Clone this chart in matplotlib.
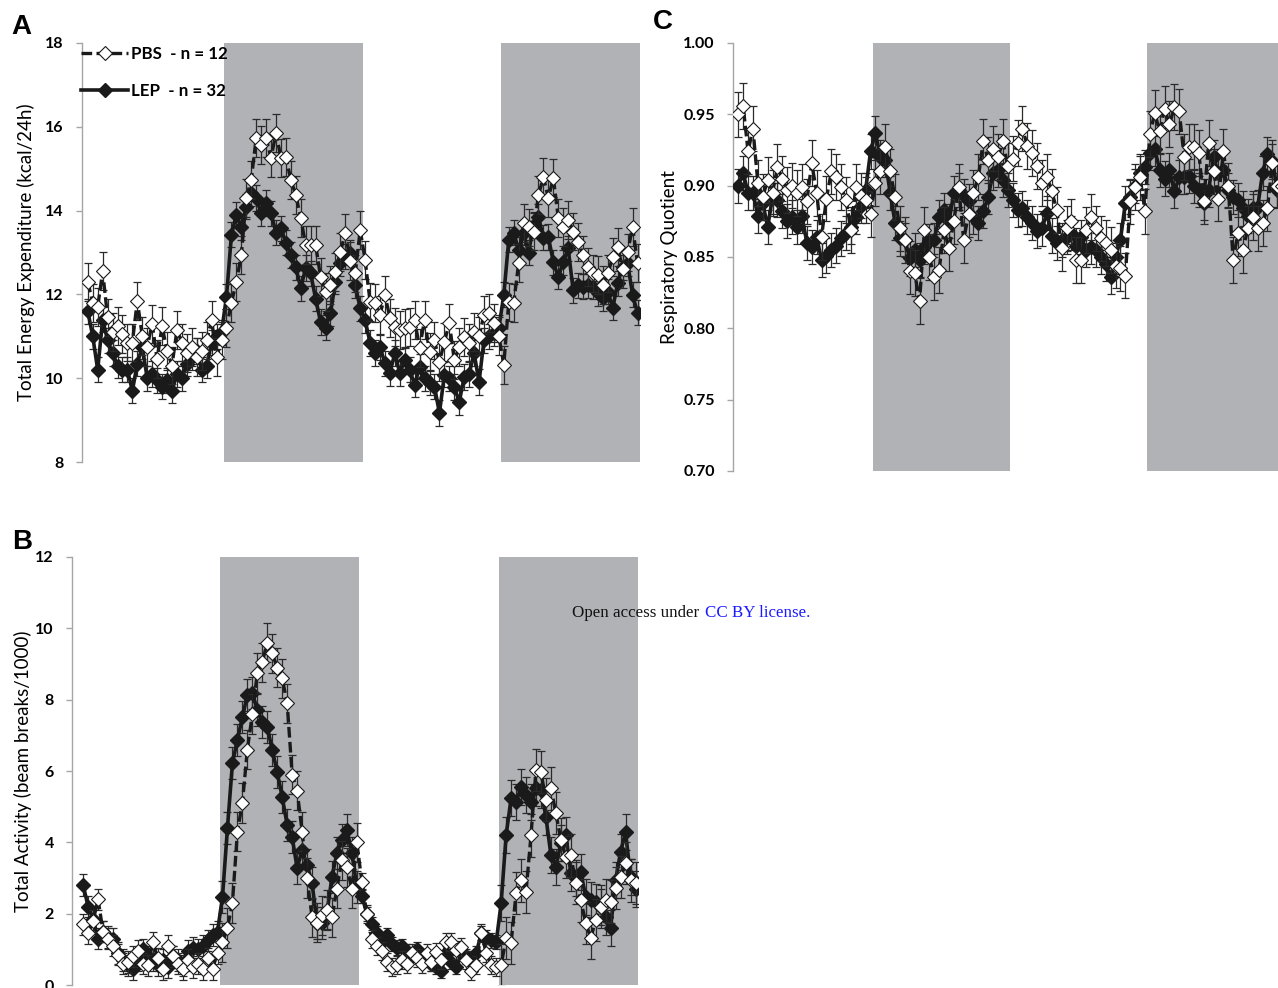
import numpy as np
import matplotlib
matplotlib.use("Agg")
import matplotlib.pyplot as plt
from matplotlib.lines import Line2D

# ---------------- data ----------------
# Panel A: Total energy expenditure (kcal/24h)
tee_lep = [11.6, 11.0, 10.2, 11.4, 10.9, 10.6, 10.3, 10.2, 10.2, 9.7, 10.35, 10.75, 10.0, 10.1,
           9.95, 9.8, 9.95, 9.7, 10.1, 10.0, 10.35, 10.5, 10.65, 10.2, 10.3, 10.85, 11.0, 11.1,
           11.94, 13.42, 13.9, 13.6, 14.09, 14.42, 14.3, 13.94, 14.18, 13.94, 13.47, 13.58, 13.23, 12.94,
           12.65, 12.15, 12.63, 12.5, 11.9, 11.34, 11.2, 11.55, 12.3, 12.75, 12.9, 12.99, 12.22, 11.67,
           11.39, 10.84, 10.6, 10.74, 10.36, 10.12, 10.6, 10.12, 10.43, 10.2, 9.84, 10.27, 10.0, 9.89,
           9.8, 9.17, 10.08, 10.0, 9.79, 9.43, 10.03, 10.1, 10.6, 9.91, 10.91, 11.0, 11.08, 11.2,
           11.99, 13.3, 13.47, 13.06, 13.47, 12.99, 13.66, 13.85, 13.35, 13.37, 12.77, 12.42, 12.77, 13.1,
           12.1, 12.22, 12.18, 12.22, 12.18, 12.03, 11.91, 12.06, 11.68, 12.27, 12.65, 12.75, 11.99, 11.56]
tee_pbs = [12.3, 11.8, 11.7, 12.55, 11.45, 11.1, 11.25, 11.05, 10.85, 10.85, 11.85, 11.0, 10.75, 11.3,
           10.45, 11.25, 10.65, 10.3, 11.15, 10.85, 10.6, 10.75, 10.5, 10.65, 10.9, 11.4, 10.5, 10.9,
           11.2, 11.8, 12.3, 12.94, 14.3, 14.73, 15.73, 15.57, 15.73, 15.26, 15.85, 15.26, 15.28, 14.73,
           14.37, 13.82, 13.18, 13.18, 13.18, 12.42, 12.06, 12.22, 12.53, 13.01, 13.47, 12.8, 12.5, 13.54,
           12.82, 11.82, 11.79, 11.51, 11.99, 11.44, 11.22, 11.15, 11.2, 11.22, 11.39, 10.72, 11.39, 10.63,
           10.9, 10.39, 10.86, 11.32, 10.43, 10.74, 10.98, 10.84, 11.1, 11.0, 11.51, 11.56, 11.32, 11.0,
           10.32, 11.82, 11.79, 12.75, 13.7, 13.6, 13.5, 14.37, 14.8, 14.3, 14.78, 13.82, 13.61, 13.78,
           13.5, 13.25, 12.94, 12.65, 12.5, 12.46, 12.22, 12.5, 12.89, 13.13, 12.6, 13.0, 13.61, 12.75]
tee_lep_sem = 0.3
tee_pbs_sem = 0.45

# Panel B: Total activity (beam breaks/1000)
act_lep = [2.8, 2.2, 1.85, 1.3, 1.5, 1.35, 1.3, 0.9, 0.7, 0.55, 0.45, 0.7, 1.0, 0.8,
           0.7, 0.55, 0.7, 0.5, 0.8, 0.7, 0.55, 0.95, 1.05, 1.0, 1.1, 1.25, 1.4, 1.5,
           2.47, 4.4, 6.22, 6.87, 7.51, 8.13, 8.19, 7.71, 7.37, 7.23, 6.59, 5.97, 5.27, 4.49,
           4.15, 3.28, 3.78, 3.36, 2.86, 1.74, 1.74, 2.02, 3.03, 3.7, 4.07, 4.35, 3.7, 2.75,
           2.5, 2.0, 1.7, 1.45, 1.2, 1.4, 1.15, 1.05, 1.1, 0.95, 0.85, 1.0, 0.8, 0.7,
           0.6, 0.5, 0.4, 0.9, 0.65, 0.5, 0.9, 0.8, 0.75, 0.9, 1.45, 1.35, 1.25, 1.2,
           2.3, 4.2, 5.24, 5.13, 5.55, 5.33, 5.13, 5.52, 5.47, 4.71, 3.64, 3.31, 3.98, 4.2,
           3.14, 3.0, 3.17, 2.47, 2.38, 2.33, 2.19, 1.9, 1.6, 2.94, 3.73, 4.29, 3.03, 2.7]
act_pbs = [1.7, 1.45, 1.8, 2.4, 1.5, 1.3, 1.1, 0.85, 0.6, 0.65, 0.8, 0.95, 0.6, 0.55,
           1.2, 0.75, 0.45, 1.1, 0.8, 0.6, 0.45, 0.7, 0.5, 0.6, 0.45, 0.75, 0.45, 0.9,
           1.2, 1.6, 2.3, 4.3, 5.1, 6.6, 7.6, 8.75, 9.05, 9.6, 9.3, 8.9, 8.6, 7.9,
           5.9, 5.45, 4.3, 3.0, 1.9, 1.75, 1.95, 2.1, 1.9, 2.7, 3.5, 3.3, 2.7, 4.0,
           2.9, 2.0, 1.3, 1.1, 0.95, 0.65, 0.5, 0.55, 0.7, 0.6, 0.9, 0.75, 0.6, 0.9,
           0.65, 0.93, 0.7, 1.2, 1.2, 0.98, 1.07, 0.7, 0.4, 0.56, 1.46, 0.9, 0.56, 0.5,
           0.56, 1.32, 1.18, 2.58, 2.94, 2.61, 4.2, 6.03, 5.97, 5.19, 5.52, 4.82, 4.07, 3.59,
           3.64, 2.86, 2.38, 1.74, 1.32, 1.82, 2.19, 2.38, 2.33, 2.72, 3.03, 3.42, 2.94, 2.86]
act_lep_sem = [0.3, 0.45, 0.2, 0.5]     # light, dark, light, dark
act_pbs_sem = [0.3, 0.55, 0.25, 0.6]

# Panel C: Respiratory quotient
rq_lep = [0.900, 0.909, 0.895, 0.895, 0.879, 0.888, 0.871, 0.892, 0.890, 0.882, 0.875, 0.878, 0.871, 0.879,
          0.860, 0.857, 0.864, 0.848, 0.851, 0.855, 0.858, 0.863, 0.867, 0.871, 0.878, 0.886, 0.897, 0.924,
          0.937, 0.920, 0.918, 0.895, 0.874, 0.863, 0.862, 0.849, 0.855, 0.848, 0.857, 0.861, 0.862, 0.878,
          0.883, 0.875, 0.895, 0.897, 0.893, 0.889, 0.878, 0.874, 0.882, 0.892, 0.909, 0.911, 0.904, 0.897,
          0.890, 0.883, 0.884, 0.878, 0.874, 0.868, 0.870, 0.881, 0.865, 0.860, 0.862, 0.864, 0.867, 0.858,
          0.864, 0.855, 0.857, 0.855, 0.850, 0.845, 0.836, 0.850, 0.862, 0.888, 0.892, 0.900, 0.909, 0.913,
          0.923, 0.926, 0.911, 0.905, 0.911, 0.896, 0.906, 0.906, 0.907, 0.900, 0.897, 0.888, 0.897, 0.920,
          0.909, 0.911, 0.897, 0.892, 0.890, 0.884, 0.879, 0.884, 0.885, 0.909, 0.922, 0.917, 0.897, 0.900]
rq_pbs = [0.950, 0.956, 0.924, 0.940, 0.902, 0.892, 0.904, 0.895, 0.913, 0.905, 0.897, 0.900, 0.895, 0.899,
          0.889, 0.916, 0.895, 0.864, 0.891, 0.910, 0.906, 0.899, 0.890, 0.869, 0.899, 0.893, 0.890, 0.880,
          0.902, 0.910, 0.927, 0.910, 0.892, 0.870, 0.862, 0.840, 0.839, 0.819, 0.869, 0.850, 0.836, 0.841,
          0.869, 0.856, 0.875, 0.899, 0.862, 0.880, 0.895, 0.906, 0.931, 0.918, 0.926, 0.920, 0.931, 0.914,
          0.919, 0.930, 0.940, 0.928, 0.923, 0.914, 0.902, 0.906, 0.896, 0.883, 0.856, 0.870, 0.875, 0.848,
          0.848, 0.869, 0.878, 0.870, 0.863, 0.860, 0.855, 0.844, 0.842, 0.837, 0.889, 0.899, 0.906, 0.882,
          0.936, 0.951, 0.938, 0.954, 0.943, 0.955, 0.952, 0.920, 0.927, 0.927, 0.923, 0.889, 0.930, 0.910,
          0.891, 0.924, 0.900, 0.848, 0.867, 0.855, 0.870, 0.878, 0.870, 0.874, 0.884, 0.916, 0.900, 0.900]
rq_lep_sem = 0.012
rq_pbs_sem = 0.016

points_per_phase = 28
dark_phases = [1, 3]
legend_labels = ["PBS  - n = 12", "LEP  - n = 32"]

# ---------------- styling ----------------
BAND = "#b1b2b6"
INK = "#1a1a1a"
SPINE = "#a6a6a6"
TICKFONT = dict(family=["Lato", "DejaVu Sans"], weight="bold", size=11.5)
LABELFONT = dict(family=["Lato", "DejaVu Sans"], size=13.5)
PBS_DASH = (0, (3.2, 1.3))
MS = 7.0

fig = plt.figure(figsize=(12.78, 9.88), dpi=100)
W, H = 1278.0, 988.0


def add_axes(l, r, t, b):
    return fig.add_axes([l / W, 1 - b / H, (r - l) / W, (b - t) / H])


def expand(sem, n):
    if np.ndim(sem) == 0:
        return np.full(n, sem)
    return np.repeat(sem, points_per_phase)[:n]


def panel(ax, lep, pbs, lep_sem, pbs_sem, ylim, yticks, fmt, xlim, ylabel, lab_x):
    n = len(lep)
    x = np.arange(n) + 0.5
    for p in dark_phases:
        ax.axvspan(p * points_per_phase, (p + 1) * points_per_phase, color=BAND, lw=0, zorder=0)
    ax.errorbar(x, lep, yerr=expand(lep_sem, n), fmt="none", ecolor="#2a2a2a",
                elinewidth=0.9, capsize=2.6, capthick=0.9, zorder=2)
    ax.plot(x, lep, ls="-", color=INK, lw=2.6, marker="D", ms=MS - 0.3,
            mfc=INK, mec=INK, zorder=3)
    ax.errorbar(x, pbs, yerr=expand(pbs_sem, n), fmt="none", ecolor="#2a2a2a",
                elinewidth=0.9, capsize=2.6, capthick=0.9, zorder=4)
    ax.plot(x, pbs, ls=PBS_DASH, color=INK, lw=2.4, marker="D", ms=MS,
            mfc="white", mec=INK, mew=0.8, zorder=5)
    ax.set_xlim(*xlim)
    ax.set_ylim(*ylim)
    ax.set_yticks(yticks)
    ax.set_yticklabels([fmt.format(v) for v in yticks], fontdict=TICKFONT)
    ax.set_xticks([])
    for s in ("top", "right", "bottom"):
        ax.spines[s].set_visible(False)
    ax.spines["left"].set_color(SPINE)
    ax.spines["left"].set_linewidth(1.0)
    ax.tick_params(axis="y", direction="out", length=4, width=1, color=SPINE, pad=9)
    ax.set_ylabel(ylabel, fontdict=LABELFONT)
    ax.yaxis.set_label_coords(lab_x, 0.5)
    ax.patch.set_alpha(0)


# Panel A
axA = add_axes(82, 640, 43, 462)
panel(axA, tee_lep, tee_pbs, tee_lep_sem, tee_pbs_sem, (8, 18), [8, 10, 12, 14, 16, 18], "{:.0f}",
      (-0.67, 112), "Total Energy Expenditure (kcal/24h)", -0.084)

# Panel B
axB = add_axes(72, 638, 557, 985)
panel(axB, act_lep, act_pbs, act_lep_sem, act_pbs_sem, (0, 12), [0, 2, 4, 6, 8, 10, 12], "{:.0f}",
      (-1.74, 112), "Total Activity (beam breaks/1000)", -0.071)

# Panel C
axC = add_axes(733, 1278, 43, 471)
panel(axC, rq_lep, rq_pbs, rq_lep_sem, rq_pbs_sem, (0.70, 1.00),
      [0.70, 0.75, 0.80, 0.85, 0.90, 0.95, 1.00], "{:.2f}",
      (-0.57, 110.65), "Respiratory Quotient", -0.101)

# Legend (panel A)
h_pbs = Line2D([], [], ls=PBS_DASH, color=INK, lw=2.4, marker="D", ms=MS, mfc="white", mec=INK, mew=0.8)
h_lep = Line2D([], [], ls="-", color=INK, lw=2.6, marker="D", ms=MS - 0.3, mfc=INK, mec=INK)
axA.legend([h_pbs, h_lep], legend_labels, loc="upper left", bbox_to_anchor=(-0.014, 1.008),
           frameon=False, handlelength=2.8, handletextpad=0.15, labelspacing=1.2,
           borderaxespad=0, prop=dict(family=["Lato", "DejaVu Sans"], weight="bold", size=12.2))

# Panel letters
for letter, px, py in (("A", 21, 27), ("C", 663, 22), ("B", 22, 542)):
    fig.text(px / W, 1 - py / H, letter, ha="center", va="center",
             fontsize=20, fontweight="bold", family=["Liberation Sans", "DejaVu Sans"])

# License note
fig.text(572 / W, 1 - 613 / H, "Open access under", ha="left", va="center",
         fontsize=12.2, family=["Liberation Serif", "DejaVu Serif"], color="#111111")
fig.text(705 / W, 1 - 613 / H, "CC BY license.", ha="left", va="center",
         fontsize=12.2, family=["Liberation Serif", "DejaVu Serif"], color="#1a1aff")

fig.savefig("out.png", dpi=100)
